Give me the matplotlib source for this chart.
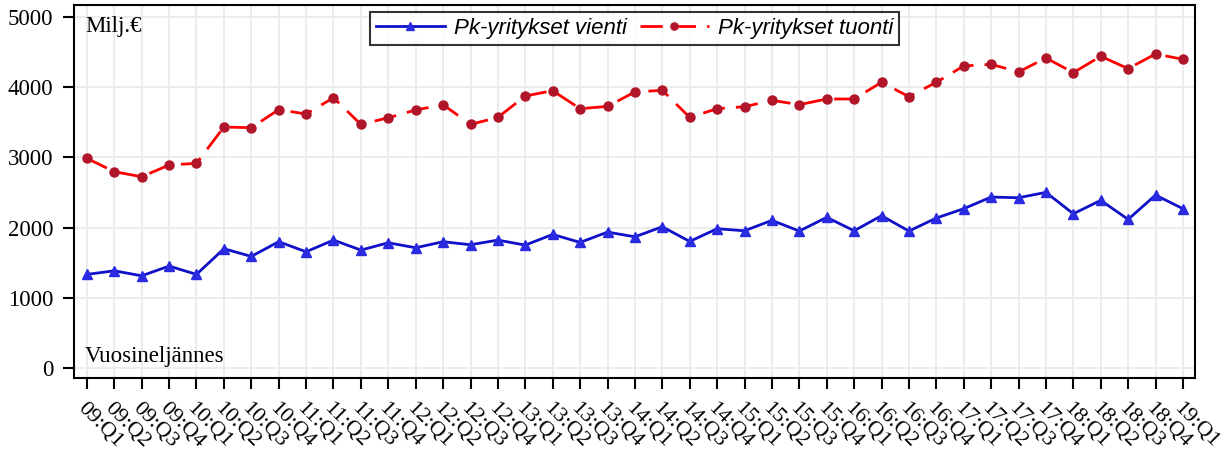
import matplotlib

matplotlib.use("Agg")
import matplotlib.pyplot as plt  # noqa: E402

# Quarters 09:Q1 .. 19:Q1
quarters = [f"{y:02d}:Q{q}" for y in range(9, 19) for q in range(1, 5)] + ["19:Q1"]

vienti = [
    1335, 1386, 1315, 1453, 1335, 1700, 1591, 1800, 1657, 1823,
    1681, 1785, 1714, 1800, 1757, 1823, 1752, 1904, 1790, 1937,
    1870, 2013, 1804, 1985, 1956, 2104, 1952, 2147, 1956, 2170,
    1952, 2137, 2270, 2436, 2426, 2503, 2198, 2389, 2118, 2464,
    2270,
]
tuonti = [
    2987, 2797, 2725, 2892, 2916, 3433, 3423, 3680, 3618, 3850,
    3470, 3565, 3675, 3751, 3470, 3570, 3875, 3950, 3694, 3727,
    3932, 3956, 3570, 3694, 3722, 3813, 3751, 3832, 3832, 4070,
    3865, 4070, 4302, 4326, 4217, 4416, 4207, 4440, 4264, 4473,
    4397,
]

serif = ["Liberation Serif", "DejaVu Serif"]
sans = ["Liberation Sans", "DejaVu Sans"]
FS = 16.5

fig = plt.figure(figsize=(12.24, 4.61), dpi=100)
ax = fig.add_axes([74 / 1224, 1 - 378 / 461, (1195 - 74) / 1224, (378 - 5) / 461])

x = list(range(len(quarters)))
ax.plot(x, vienti, color="#1010c8", lw=2.0, marker="^", ms=6.5,
        mfc="#2a2ae0", mec="#2a2ae0", label="Pk-yritykset vienti", zorder=3)
ax.plot(x, tuonti, color="#ff0000", lw=2.0, ls=(0, (8, 4)), marker="o", ms=6.5,
        mfc="#b0152a", mec="#b0152a", label="Pk-yritykset tuonti", zorder=3)

ax.set_xlim(-0.47, 40.44)
ax.set_ylim(-140, 5170)
ax.set_yticks([0, 1000, 2000, 3000, 4000, 5000])
ax.set_xticks(x)
ax.set_xticklabels(quarters, rotation=-45, ha="left", va="top",
                   rotation_mode="anchor", family=serif, fontsize=16)
for t in ax.get_yticklabels():
    t.set_family(serif)
    t.set_fontsize(FS)

ax.grid(True, color="#ebebeb", lw=1.3)
ax.set_axisbelow(True)
ax.tick_params(axis="x", direction="out", length=8, width=1.5, pad=7)
ax.tick_params(axis="y", direction="out", length=8, width=1.5, pad=7)
for s in ax.spines.values():
    s.set_linewidth(1.5)

ax.text(0.01, 0.97, "Milj.€", transform=ax.transAxes, ha="left", va="top",
        family=serif, fontsize=FS)
ax.text(0.01, 0.03, "Vuosineljännes", transform=ax.transAxes, ha="left",
        va="bottom", family=serif, fontsize=FS)

leg = ax.legend(loc="upper center", ncol=2, bbox_to_anchor=(0.5, 0.98),
                prop={"family": sans, "style": "italic", "size": 16},
                frameon=True, fancybox=False, edgecolor="black",
                handlelength=3.1, columnspacing=0.6, borderpad=0.25,
                handletextpad=0.4, borderaxespad=0.0, markerscale=0.8)
leg.get_frame().set_linewidth(1.5)

fig.savefig("out.png", dpi=100)
